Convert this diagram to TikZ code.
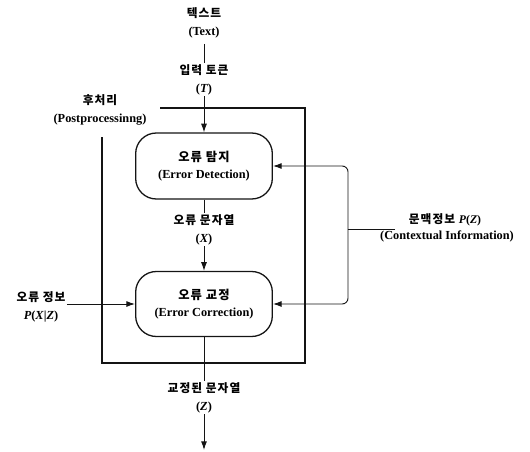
\documentclass[tikz,border=0pt]{standalone}
\usepackage{fontspec}
\setmainfont{Liberation Serif}
\newfontfamily\kr[LetterSpace=9]{Noto Sans CJK KR}
\usetikzlibrary{arrows.meta, positioning}
\definecolor{ink}{RGB}{20,20,20}
\tikzset{
  block/.style={rectangle, draw=ink, rounded corners=0.62cm, minimum width=4.1cm,
    minimum height=1.98cm, line width=1.1pt, align=center,
    font=\bfseries\fontsize{10.5}{15}\selectfont},
  kor/.style={font=\kr\bfseries\fontsize{10}{11}\selectfont, inner sep=1pt},
  eng/.style={font=\bfseries\fontsize{10.5}{11}\selectfont, inner sep=1pt},
  arrow/.style={-{Latex[length=2.6mm,width=1.8mm]}, line width=0.8pt, color=ink},
  line/.style={line width=0.8pt, color=ink},
  frame/.style={line width=1.1pt, color=ink}
}
\newcommand{\lat}[1]{{\rmfamily\bfseries #1}}

\begin{document}
\begin{tikzpicture}[x=0.03cm, y=-0.03cm, node distance=0.16cm]
\useasboundingbox (0,0) rectangle (530,452);

% main blocks
\node[block] (det) at (204,166) {{\kr 오류 탐지}\\(Error Detection)};
\node[block, minimum height=1.95cm] (cor) at (204,304) {{\kr 오류 교정}\\(Error Correction)};

% input text and tokens
\node[kor] (textko) at (204,13) {텍스트};
\node[eng, below=of textko] (texten) {(Text)};
\node[kor] (tok) at (204,70) {입력 토큰};
\node[eng, below=of tok] (tokT) {(\textit{T})};
\draw[line, shorten <=4pt] (texten.south) -- (tok.north);
\draw[arrow] (tokT) -- (det);

% error string between the blocks
\node[kor] (errstr) at (204,220) {오류 문자열};
\node[eng, below=of errstr] (errX) {(\textit{X})};
\draw[line] (det) -- (errstr);
\draw[arrow] (errX) -- (cor);

% corrected output
\node[kor] (outstr) at (204,388) {교정된 문자열};
\node[eng, below=of outstr] (outZ) {(\textit{Z})};
\coordinate (sink) at (204,450);
\draw[line] (cor) -- (outstr);
\draw[arrow] (outZ) -- (sink);

% postprocessing frame
\node[kor] (post) at (100,100) {후처리};
\node[eng, below=of post] (posten) {(Postprocessinng)};
\coordinate (fTL) at (160,108);
\coordinate (fTR) at (305,108);
\coordinate (fBR) at (305,363);
\coordinate (fBL) at (102,363);
\coordinate (fL) at (102,137);
\draw[frame] (fTL) -- (fTR) -- (fBR) -- (fBL) -- (fL);

% contextual information, fed to both blocks
\node[kor] (ctx) at (445,220) {문맥정보 \lat{\textit{P}(\textit{Z})}};
\node[eng] (ctxen) at (447,236) {(Contextual Information)};
\coordinate (loop) at (348,229);
\coordinate (ctxin) at (395,229);
\draw[line] (ctxin) -- (loop);
\draw[arrow, rounded corners=5pt] (loop) |- (det.east);
\draw[arrow, rounded corners=5pt] (loop) |- (cor.east);

% error information
\node[kor] (errinfo) at (41,297) {오류 정보};
\node[eng, below=of errinfo] (errP) {\textit{P}(\textit{X}|\textit{Z})};
\draw[arrow] (errinfo.south east |- cor.west) -- (cor.west);
\end{tikzpicture}
\end{document}
